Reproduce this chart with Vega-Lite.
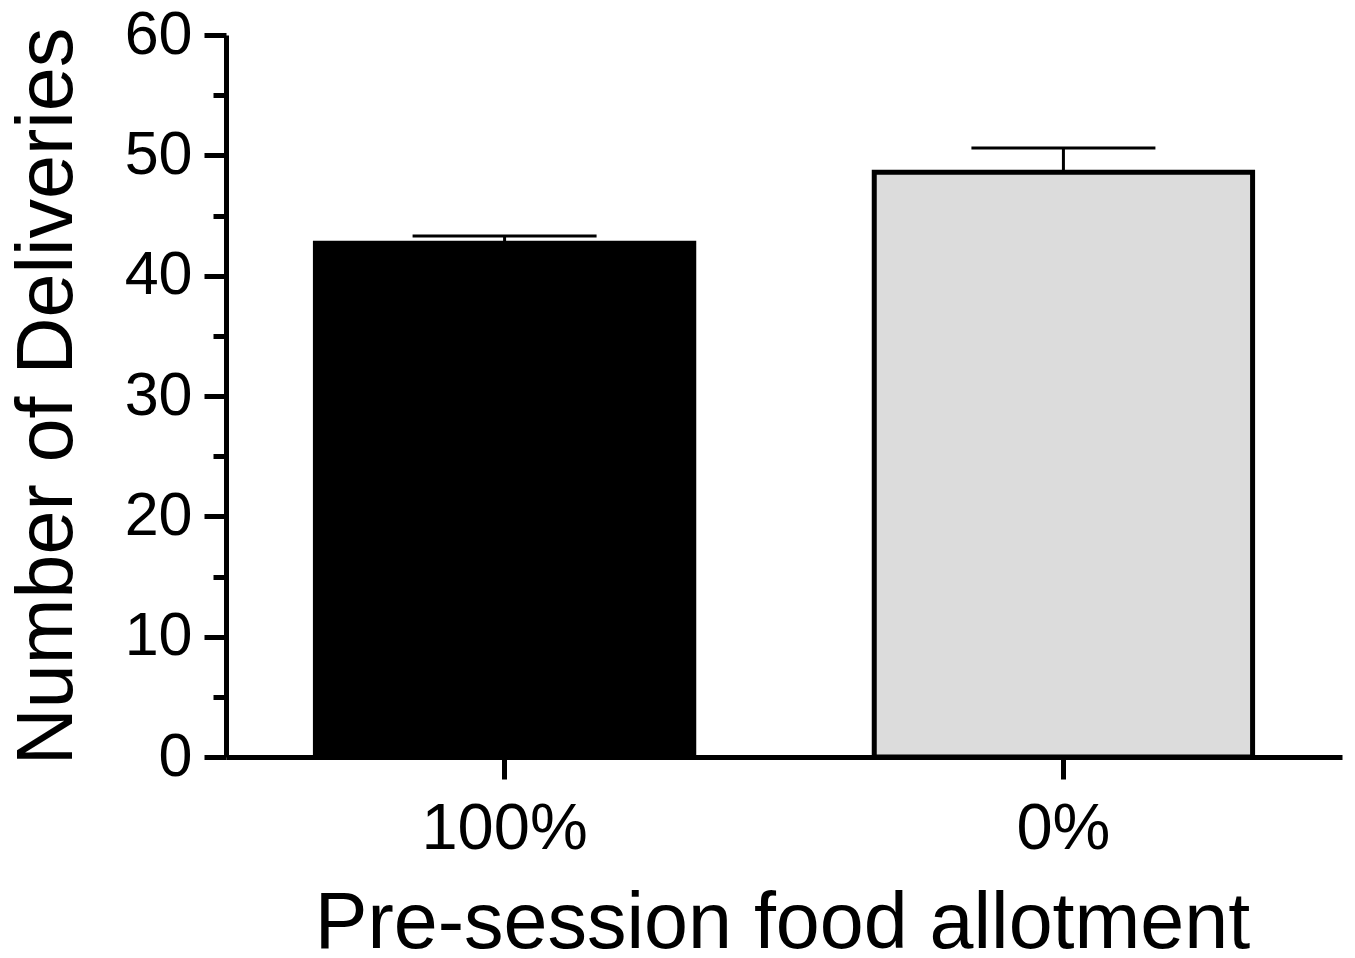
{
  "$schema": "https://vega.github.io/schema/vega-lite/v6.json",
  "width": 1116,
  "height": 722,
  "autosize": {"type": "none"},
  "padding": {"left": 226, "top": 35, "right": 13, "bottom": 201},
  "background": "white",
  "config": {
    "view": {"stroke": null},
    "font": "Liberation Sans",
    "axis": {
      "domainColor": "black",
      "domainWidth": 5,
      "tickColor": "black",
      "tickWidth": 5,
      "labelColor": "black",
      "titleColor": "black",
      "labelFont": "Liberation Sans",
      "titleFont": "Liberation Sans",
      "titleFontWeight": "normal",
      "grid": false
    }
  },
  "data": {
    "values": [
      {"group": "100%", "mean": 42.7, "upper": 43.3},
      {"group": "0%", "mean": 48.6, "upper": 50.6}
    ]
  },
  "encoding": {
    "x": {
      "field": "group",
      "type": "nominal",
      "sort": ["100%", "0%"],
      "scale": {"paddingInner": 0.323, "paddingOuter": 0.16},
      "axis": {
        "title": "Pre-session food allotment",
        "titleFontSize": 79,
        "titleX": 556,
        "titleY": 128,
        "labelFontSize": 65,
        "labelAngle": 0,
        "labelPadding": 18,
        "tickSize": 22
      }
    }
  },
  "layer": [
    {
      "mark": {"type": "bar", "stroke": "black", "strokeWidth": 5},
      "encoding": {
        "y": {
          "field": "mean",
          "type": "quantitative",
          "scale": {"domain": [0, 60], "nice": false},
          "axis": {
            "orient": "left",
            "title": "Number of Deliveries",
            "titleFontSize": 79,
            "titleX": -138,
            "titleY": 361,
            "titleBaseline": "bottom",
            "values": [0, 10, 20, 30, 40, 50, 60],
            "labelFontSize": 61,
            "labelPadding": 12,
            "tickSize": 22
          }
        },
        "fill": {
          "field": "group",
          "type": "nominal",
          "scale": {"domain": ["100%", "0%"], "range": ["#000000", "#dcdcdc"]},
          "legend": null
        }
      }
    },
    {
      "mark": {"type": "rule", "strokeWidth": 3, "color": "black", "opacity": 1},
      "encoding": {
        "y": {
          "field": "mean",
          "type": "quantitative",
          "axis": {
            "orient": "left",
            "title": null,
            "values": [5, 15, 25, 35, 45, 55],
            "labels": false,
            "domain": false,
            "tickSize": 13
          }
        },
        "y2": {"field": "upper"}
      }
    },
    {
      "mark": {"type": "tick", "orient": "horizontal", "size": 184, "thickness": 3, "color": "black", "opacity": 1},
      "encoding": {
        "y": {"field": "upper", "type": "quantitative", "axis": null}
      }
    }
  ],
  "resolve": {"axis": {"y": "independent"}}
}
